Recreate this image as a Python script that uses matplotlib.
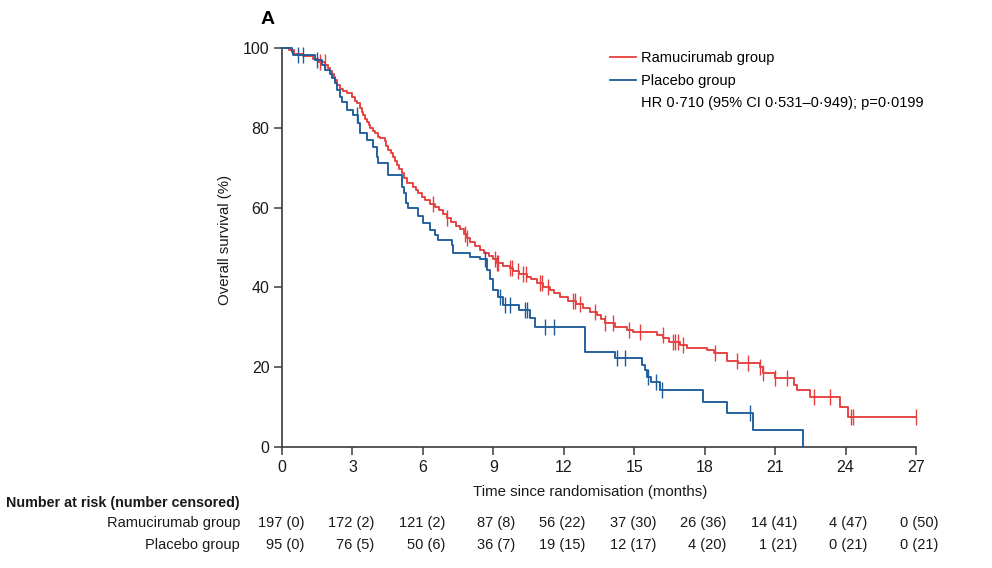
import numpy as np
import matplotlib
matplotlib.use('Agg')
import matplotlib.pyplot as plt
from matplotlib.lines import Line2D
from matplotlib.transforms import offset_copy, blended_transform_factory

plt.rcParams['font.family'] = ['Liberation Sans', 'DejaVu Sans']

# Kaplan-Meier step data (time in months, survival %)
ram_t = [0, 0.3, 0.5, 0.9, 1.3, 1.55, 1.85, 1.97, 2.05, 2.12, 2.2, 2.26, 2.33, 2.45, 2.6, 2.76,
         2.97, 3.1, 3.18, 3.32, 3.4, 3.46, 3.55, 3.61, 3.7, 3.75, 3.88, 3.96, 4.1, 4.17, 4.39,
         4.45, 4.53, 4.65, 4.74, 4.8, 4.88, 5.0, 5.1, 5.2, 5.31, 5.59, 5.7, 5.81, 5.95, 6.09,
         6.3, 6.52, 6.7, 6.85, 7.01, 7.2, 7.4, 7.6, 7.75, 7.87, 8.0, 8.2, 8.43, 8.6, 8.8, 9.0,
         9.14, 9.4, 9.71, 9.85, 10.1, 10.42, 10.6, 10.85, 11.13, 11.41, 11.6, 11.84, 12.2,
         12.5, 12.83, 13.1, 13.4, 13.6, 13.76, 14.2, 14.7, 14.96, 15.96, 16.24, 16.5, 16.95,
         17.24, 18.1, 18.4, 18.94, 19.4, 20.36, 20.5, 21.0, 21.8, 21.92, 22.49, 23.77, 24.12, 27.0]
ram_s = [100, 99.5, 98.5, 98.0, 97.2, 96.6, 95.7, 94.9, 94.2, 93.6, 92.8, 92.0, 90.8, 89.8, 89.1, 88.6,
         87.7, 86.8, 86.1, 85.0, 84.0, 83.2, 82.3, 81.5, 80.6, 79.9, 79.1, 78.6, 77.8, 77.4, 76.6,
         75.5, 74.4, 73.6, 72.8, 71.8, 70.7, 69.6, 68.6, 67.5, 66.1, 65.2, 64.4, 63.6, 62.7, 61.9,
         61.0, 60.2, 59.4, 58.5, 57.4, 56.5, 55.5, 54.6, 53.4, 52.3, 51.3, 50.4, 49.4, 48.6, 47.8, 47.0,
         46.0, 45.4, 44.8, 44.2, 43.4, 42.7, 42.0, 41.2, 40.2, 39.3, 38.5, 37.5, 36.6,
         35.8, 34.8, 33.9, 33.1, 32.0, 31.0, 30.2, 29.4, 28.9, 28.1, 27.2, 26.4, 25.6,
         24.7, 24.2, 23.5, 21.6, 21.0, 20.1, 18.5, 17.2, 15.6, 14.3, 12.6, 10.1, 7.6, 7.6]
ram_cens = [1.62, 1.83, 6.44, 7.01, 7.79, 7.88, 9.07, 9.14, 9.21, 9.71, 9.78, 10.07, 10.28, 10.38,
            10.99, 11.06, 11.34, 12.41, 12.48, 12.69, 13.33, 13.76, 14.11, 14.79, 15.25, 16.21,
            16.67, 16.74, 16.88, 17.09, 18.44, 19.37, 19.86, 20.36, 20.5, 21.0, 21.5, 22.67,
            23.34, 24.22, 24.33, 27.0]

pla_t = [0, 0.41, 0.48, 1.41, 1.69, 1.83, 2.04, 2.12, 2.26, 2.33, 2.47, 2.54, 2.76, 3.04, 3.25,
         3.32, 3.61, 3.89, 4.03, 4.1, 4.53, 5.1, 5.2, 5.3, 5.38, 5.8, 6.02, 6.3, 6.5, 6.66, 7.23,
         7.3, 8.0, 8.43, 8.72, 8.85, 9.0, 9.2, 9.43, 10.1, 10.56, 10.77, 12.9, 14.2, 15.32, 15.45,
         15.55, 15.7, 16.1, 17.94, 18.94, 20.07, 22.18]
pla_s = [100, 98.9, 98.2, 97.0, 95.7, 94.5, 93.6, 92.4, 91.2, 89.5, 87.8, 86.5, 84.5, 83.2, 81.1,
         78.6, 76.9, 75.3, 72.8, 71.1, 68.2, 65.2, 63.6, 61.1, 59.8, 57.8, 56.1, 54.4, 53.2, 51.9, 50.6,
         48.5, 47.7, 47.1, 44.4, 42.0, 39.3, 37.7, 35.6, 34.3, 32.3, 30.0, 23.9, 22.4, 20.6, 19.3,
         17.6, 16.4, 14.3, 11.4, 8.4, 4.3, 0]
pla_cens = [0.69, 0.91, 1.48, 3.18, 8.65, 9.28, 9.5, 9.71, 10.35, 10.42, 11.2, 11.58, 14.25,
            14.62, 15.6, 15.93, 16.2, 19.93]

x_ticks = [0, 3, 6, 9, 12, 15, 18, 21, 24, 27]
y_ticks = [0, 20, 40, 60, 80, 100]
ram_risk = ["197 (0)", "172 (2)", "121 (2)", "87 (8)", "56 (22)", "37 (30)", "26 (36)", "14 (41)", "4 (47)", "0 (50)"]
pla_risk = ["95 (0)", "76 (5)", "50 (6)", "36 (7)", "19 (15)", "12 (17)", "4 (20)", "1 (21)", "0 (21)", "0 (21)"]

red = '#e5403f'
blue = '#1d5c9b'
txt = '#1a1a1a'
W, H = 992, 568

fig = plt.figure(figsize=(W / 100, H / 100), dpi=100)
ax = fig.add_axes([282 / W, 1 - 447 / H, (916 - 282) / W, (447 - 48) / H])


def censor_y(t, s, c):
    t = np.asarray(t); s = np.asarray(s)
    idx = np.searchsorted(t, c, side='right') - 1
    return s[idx]


for t, s, c, col in [(ram_t, ram_s, ram_cens, red), (pla_t, pla_s, pla_cens, blue)]:
    ax.step(t, s, where='post', color=col, lw=1.35, clip_on=False, zorder=3)
    ax.plot(c, censor_y(t, s, c), ls='none', marker='|', ms=11, mew=1.0, color=col,
            clip_on=False, zorder=3)

ax.set_xlim(0, 27)
ax.set_ylim(0, 100)
ax.set_xticks(x_ticks)
ax.set_yticks(y_ticks)
for sp in ['top', 'right']:
    ax.spines[sp].set_visible(False)
for sp in ['left', 'bottom']:
    ax.spines[sp].set_color('#3a3a3a')
    ax.spines[sp].set_linewidth(1.2)
ax.tick_params(direction='out', length=6, width=1.1, color='#3a3a3a', labelsize=11.5,
               labelcolor=txt, pad=3)
ax.set_xlabel('Time since randomisation (months)', fontsize=10.8, color=txt)
ax.xaxis.set_label_coords(0.486, -38 / 399)
ax.set_ylabel('Overall survival (%)', fontsize=10.8, color=txt)
ax.yaxis.set_label_coords(-50 / 634, 0.52)

# panel letter
fig.text(261 / W, 1 - 20 / H, 'A', fontsize=14, fontweight='bold', va='center', ha='left')

# legend
handles = [Line2D([], [], color=red, lw=1.3), Line2D([], [], color=blue, lw=1.3),
           Line2D([], [], color='none')]
labels = ['Ramucirumab group', 'Placebo group', 'HR 0·710 (95% CI 0·531–0·949); p=0·0199']
ax.legend(handles, labels, loc='upper left', bbox_to_anchor=(610 / W, 1 - 51 / H),
          bbox_transform=fig.transFigure, frameon=False, fontsize=10.5,
          handlelength=1.75, handletextpad=0.35, labelspacing=0.6, borderpad=0,
          borderaxespad=0)

# number at risk table, right-aligned just after each x tick
fig.text(6 / W, 1 - 503 / H, 'Number at risk (number censored)', fontsize=10.3,
         fontweight='bold', va='center', ha='left', color=txt)
fig.text(240 / W, 1 - 523 / H, 'Ramucirumab group', fontsize=10.5, va='center', ha='right', color=txt)
fig.text(240 / W, 1 - 545 / H, 'Placebo group', fontsize=10.5, va='center', ha='right', color=txt)
tr = offset_copy(blended_transform_factory(ax.transData, fig.transFigure), fig=fig, x=22, y=0,
                 units='dots')
for i, xt in enumerate(x_ticks):
    ax.text(xt, 1 - 523 / H, ram_risk[i], transform=tr, fontsize=10.5, va='center', ha='right', color=txt)
    ax.text(xt, 1 - 545 / H, pla_risk[i], transform=tr, fontsize=10.5, va='center', ha='right', color=txt)

fig.savefig('out.png', dpi=100)
